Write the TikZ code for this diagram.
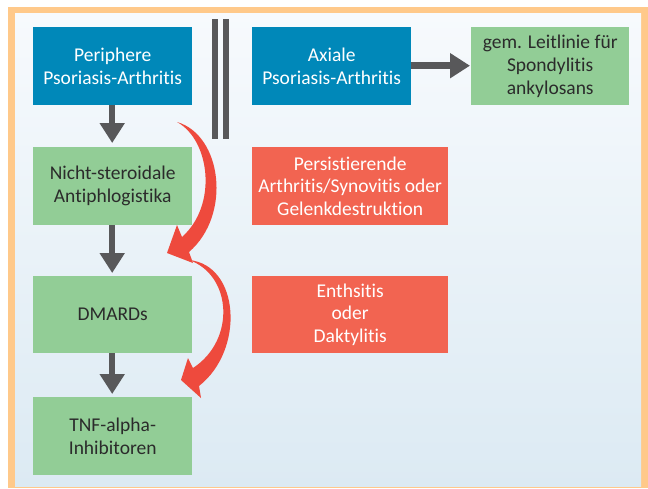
\documentclass[tikz,border=0pt]{standalone}
\usepackage{fontspec}
\setmainfont{Carlito}[Ligatures={NoCommon,NoRare,NoContextual}]
\usetikzlibrary{arrows.meta}
\definecolor{pblue}{HTML}{0088B9}
\definecolor{pgreen}{HTML}{92CD96}
\definecolor{pred}{HTML}{F26451}
\definecolor{parrow}{HTML}{EE4A3D}
\definecolor{pgray}{HTML}{58585A}
\definecolor{pdark}{HTML}{2B2B2B}
\definecolor{porange}{HTML}{FFC98A}
\definecolor{ptop}{HTML}{F7FAFD}
\definecolor{pbot}{HTML}{DCEAF3}
\tikzset{
  box/.style={rectangle, inner sep=0pt, align=center, anchor=north west,
    font=\fontsize{19.5}{22.7}\selectfont},
  bluebox/.style={box, fill=pblue, text=white, minimum width=159pt, minimum height=78pt},
  greenbox/.style={box, fill=pgreen, text=pdark, minimum width=159pt, minimum height=78pt},
  redbox/.style={box, fill=pred, text=white, minimum width=196pt, minimum height=78pt},
  grayarrow/.style={draw=pgray, line width=6.5pt, -{Triangle[width=24pt,length=20pt]}, fill=pgray},
}
\begin{document}
\begin{tikzpicture}[x=1pt,y=-1pt]
\useasboundingbox (0,0) rectangle (648,488);
\fill[porange] (8,7) rectangle (648,488);
\shade[top color=ptop, bottom color=pbot] (15,13) rectangle (641,486);

\node[bluebox] (per) at (33,27) {Periphere\\Psoriasis-Arthritis};
\node[bluebox] (ax) at (252,27) {Axiale\\Psoriasis-Arthritis};
\node[greenbox, minimum width=158pt] (gem) at (471,27) {gem. Leitlinie für\\Spondylitis\\ankylosans};
\node[greenbox] (nsa) at (33,147) {Nicht-steroidale\\Antiphlogistika};
\node[redbox] (pers) at (252,147) {Persistierende\\Arthritis/Synovitis oder\\Gelenkdestruktion};
\node[greenbox, minimum height=77pt] (dm) at (33,276) {DMARDs};
\node[redbox, minimum height=77pt] (ent) at (252,276) {Enthsitis\\oder\\Daktylitis};
\node[greenbox] (tnf) at (33,397) {TNF-alpha-\\Inhibitoren};

% double separator
\fill[pgray] (212,19) rectangle (218,139);
\fill[pgray] (223,19) rectangle (229,139);

% gray arrows
\draw[grayarrow, shorten >=4pt] ([xshift=-0.5pt]per.south) -- ([xshift=-0.5pt]nsa.north);
\draw[grayarrow, shorten >=3pt] ([xshift=-0.5pt]nsa.south) -- ([xshift=-0.5pt]dm.north);
\draw[grayarrow, shorten >=3pt] ([xshift=-0.5pt]dm.south) -- ([xshift=-0.5pt]tnf.north);
\draw[grayarrow, shorten >=1pt] ([yshift=0.5pt]ax.east) -- ([yshift=0.5pt]gem.west);

% red curved arrows
\fill[parrow] (177,122) .. controls (222,135) and (232,215) .. (189,252)
  -- (193,263) -- (167,253) -- (177,225) -- (182,237)
  .. controls (218,205) and (210,140) .. (177,122) -- cycle;
\fill[parrow] (189,260) .. controls (240,265) and (245,350) .. (199,386)
  -- (201,398) -- (181,380) -- (188,358) -- (193,368)
  .. controls (236,340) and (232,275) .. (189,260) -- cycle;
\end{tikzpicture}
\end{document}
